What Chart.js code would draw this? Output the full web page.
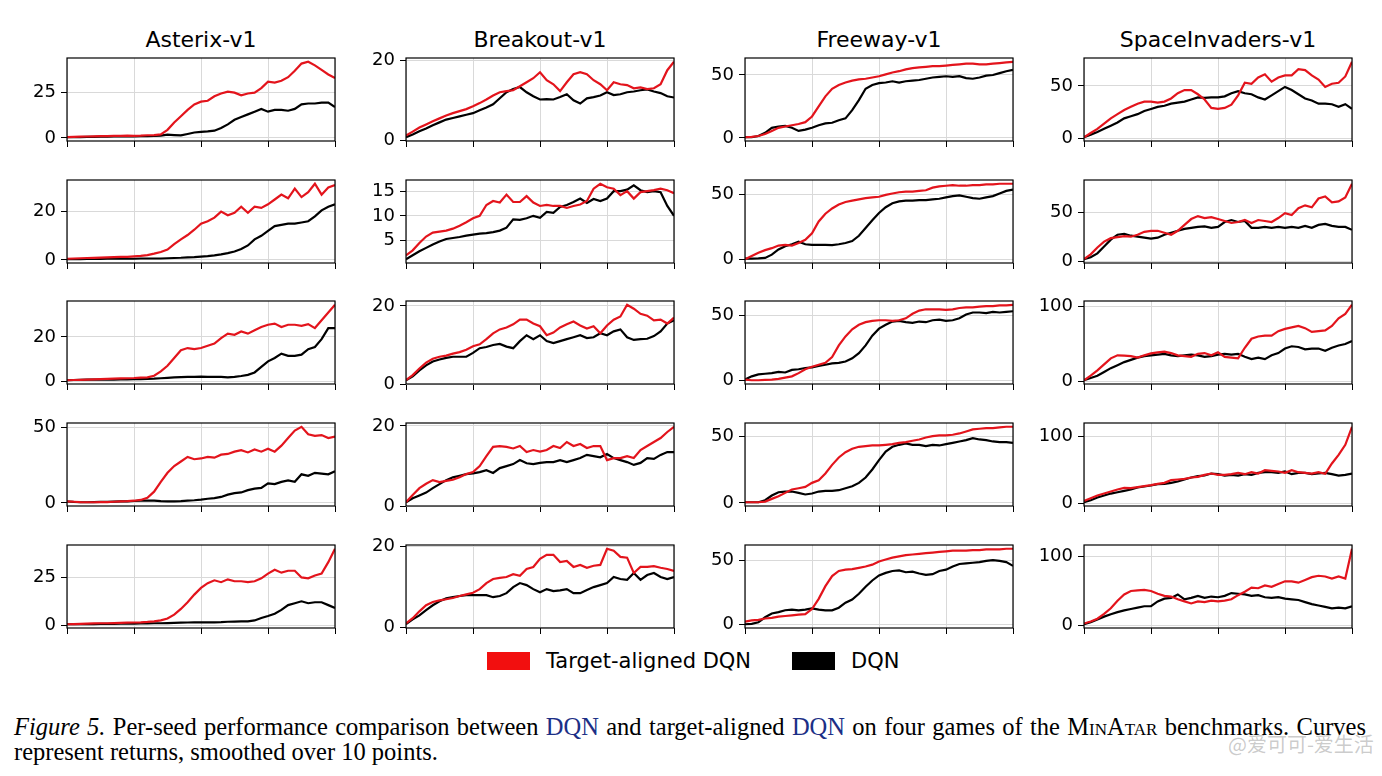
<!DOCTYPE html>
<html>
<head>
<meta charset="utf-8">
<script src="https://cdn.jsdelivr.net/npm/chart.js@4.4.0/dist/chart.umd.min.js"></script>
<style>
  body { margin: 0; background: #fff; width: 1382px; height: 776px; overflow: hidden; position: relative; font-family: 'DejaVu Sans', sans-serif; color: #000; }
  .titulo { position: absolute; top: 26px; width: 268px; text-align: center; font-size: 22px; line-height: 28px; white-space: nowrap; }
  .panel { position: absolute; }
  .leyenda { position: absolute; top: 648px; font-size: 21px; line-height: 26px; white-space: nowrap; }
  .caja { position: absolute; top: 652px; width: 43px; height: 18px; }
  #caption { position: absolute; left: 14px; top: 714px; width: 1352px; font-family: 'Liberation Serif', serif; font-size: 24.5px; line-height: 25px; }
  #caption .l1 { text-align: justify; text-align-last: justify; white-space: nowrap; }
  .dqn { color: #1c2f86; }
  #marca { position: absolute; left: 1228px; top: 729px; font-family: 'Noto Sans CJK SC', sans-serif; font-size: 20px; white-space: nowrap; color: rgba(140,140,140,0.45); }
</style>
</head>
<body>

<script>
// juegos (columnas) y posicion de cada eje
const juegos = ['Asterix-v1', 'Breakout-v1', 'Freeway-v1', 'SpaceInvaders-v1'];
const columnasX = [67, 406, 745, 1084];
const filasY = [58, 180, 301, 423, 545];
const anchoEje = 268;
const altoEje = 83;

// ticks del eje y para cada semilla (fila)
const ticksAsterix = [[0, 25], [0, 20], [0, 20], [0, 50], [0, 25]];
const ticksBreakout = [[0, 20], [5, 10, 15], [0, 20], [0, 20], [0, 20]];
const ticksFreeway = [[0, 50], [0, 50], [0, 50], [0, 50], [0, 50]];
const ticksSpace = [[0, 50], [0, 50], [0, 100], [0, 100], [0, 100]];

// retornos suavizados, una fila por semilla
const asterixAlineado = [
  [0.5,0.6,0.7,0.8,0.9,1.0,1.0,1.1,1.2,1.3,1.2,1.3,1.5,1.6,2,4.5,8.5,12,15.5,18.5,20,20.5,23,24.5,25.5,25,23.5,24.5,25,27.5,31,30.5,31.5,33.5,37,41,42,40,37.5,35,33],
  [0.5,0.6,0.7,0.8,0.9,1,1.1,1.2,1.3,1.3,1.5,1.7,2,2.6,3.3,4.3,6.5,8.5,10.3,12.5,15,16,17.5,20,18.5,19.5,22,19.5,22,21.5,23,25,27,25.5,29.5,26,28,31.5,27,30,31],
  [0.5,0.6,0.7,0.8,0.9,1,1.1,1.2,1.3,1.4,1.5,1.7,1.8,2.5,4.5,7,10.5,14,15,14.5,15,16,17,19.5,21.5,21,22.5,21.5,23,24.5,25.5,26,24.5,25.5,25.5,25,25.8,24,27.5,31,34.5],
  [1,0.8,0.6,0.5,0.5,0.6,0.6,0.8,1,1.2,1.5,2,3.5,7.5,14,20,24.5,27.5,30.5,29,29.5,30.5,30,32,32.5,34,35,33.5,35.5,34,36,34,38,43,48,50.5,45.5,44.5,45,43,44],
  [0.5,0.6,0.7,0.8,0.9,1,1,1.1,1.2,1.3,1.4,1.5,1.7,2,2.5,3.5,5.5,8.5,12,16,19.5,22,23.5,22.5,24,23,23,22.5,23,24.5,27,29,27.5,28.5,28.5,25,24.5,26,27,33,40]
];
const asterixDQN = [
  [0.4,0.5,0.5,0.6,0.6,0.7,0.7,0.8,0.8,0.9,0.9,1,1,1.1,1.3,1.8,1.6,1.4,2.2,3,3.3,3.6,4,5.5,7.5,10,11.5,13,14.5,16,14.5,15.5,15.5,15,16,18.5,19,19,19.5,19.5,17],
  [0.3,0.3,0.3,0.4,0.4,0.4,0.5,0.5,0.5,0.5,0.5,0.6,0.6,0.6,0.6,0.7,0.8,0.9,1.1,1.2,1.4,1.6,1.9,2.3,2.8,3.5,4.5,6,8.5,10,12,14,14.5,15,15,15.5,16,18,20.5,22,23],
  [0.5,0.6,0.7,0.8,0.8,0.8,0.8,0.8,0.9,0.9,1,1,1.1,1.2,1.4,1.6,1.8,1.9,2,2,2.1,2,2,2,1.8,2,2.4,2.9,4,6.5,9,10.5,12.5,11.5,11.5,12,14.5,15.5,19,24,24],
  [1,0.7,0.5,0.5,0.6,0.7,0.8,0.9,1,1.1,1.3,1.5,1.6,1.5,1.2,1,1,1.2,1.5,1.8,2.2,2.8,3.2,4,5.5,6.5,7,8.5,9.5,10,13,12.5,14,15,14,19,18,20,19.5,19,21],
  [0.5,0.5,0.5,0.6,0.6,0.7,0.7,0.7,0.8,0.8,0.8,0.9,0.9,1,1,1.1,1.2,1.3,1.4,1.5,1.5,1.5,1.5,1.6,1.8,1.9,2,2,2.5,3.8,4.8,6,8,10.5,11.5,12.5,11.5,12,12,10.5,9]
];
const breakoutAlineado = [
  [1.2,2.2,3.2,4,4.8,5.5,6.2,6.8,7.3,7.8,8.5,9.3,10.2,11.2,12,12.3,12.5,13.5,14.5,15.5,17,15,14,12.3,14.5,16.5,17,16.5,15,14,12.5,14.5,14,13.8,13,13.2,12.8,13,14,17.5,19.6],
  [2,3,4.5,5.8,6.6,6.8,7,7.4,8,8.7,9.5,10,12.2,13,12.7,14.3,12.8,12.8,14,12.7,12,12.2,12,12,11.6,12,12.3,13,15.5,16.5,15.8,15.5,14.2,15,13.5,14.8,15,15.2,15.5,15.2,14.6],
  [1,2.3,4,5.5,6.5,7,7.3,7.8,8.2,8.8,9.7,10.2,11.5,13,14,14.5,15.3,16.5,16.5,15.5,14.8,12.5,13.2,14.5,15.3,16,15,14.2,14.8,13,15,16.5,17.3,20.3,19.3,18,17.5,16.3,16.5,15.5,17],
  [1,2.8,4.5,5.6,6.5,6,6.3,6.6,7.2,8,8.5,10,12.5,14.8,15,14.8,14.4,15,13.5,14,13.6,14,15,14.5,16,15,15.5,14.5,15,15,11.5,12,12,12.5,12,14,15,16,17,18.5,19.8],
  [1,2.3,4,5.5,6.3,6.7,7,7.3,7.8,8.2,8.6,9.5,11,12,12.3,12.5,13.2,12.8,14.5,15,17,18,18,16.2,16.5,15,15.5,14.8,15.3,15.5,19.5,19,17.5,17.3,13.5,15,15,15.2,14.8,14.5,14]
];
const breakoutDQN = [
  [0.8,1.5,2.3,3,3.8,4.5,5.2,5.6,6,6.4,6.8,7.5,8.2,9,10.5,12,12.8,13.3,12,11,10.2,10.3,10.2,10.8,11.5,10,9.2,10.5,10.8,11.2,12,11.3,11.5,12,12.2,12.5,12.7,12.2,11.8,11,10.7],
  [1.2,2,2.8,3.5,4.2,4.8,5.3,5.5,5.7,6,6.2,6.4,6.5,6.7,7,7.6,9.3,9.2,9.5,10,9.6,10.8,10.6,11.8,12.2,12.8,13.5,12.6,13.4,13,13.5,15,15,15.3,16.2,15.2,14.8,15,14.8,12,10],
  [1,2,3.5,4.8,5.8,6.3,6.7,7,7,7,8,9.2,9.5,10,10.3,9.6,9.2,11,12.5,11.5,12.5,11,10.5,11,11.5,12,12.5,11.8,12,13,12.5,13.5,14,12,11.3,11.5,11.6,12.3,13.5,15.5,16.3],
  [1,2,2.7,3.4,4.5,5.5,6.5,7.2,7.6,8,8.2,8.5,9,8.3,9.5,10,10.5,11.5,10.7,10.5,10.8,11,11,11.5,11,11.5,12,12.8,12.5,12.2,13,12,11.5,11,10.3,10.8,12,11.8,12.8,13.5,13.5],
  [0.8,2,3,4.3,5.5,6.5,7.2,7.5,7.8,8,8,8,8,7.5,7.8,8.5,10,11,10.5,9.5,8.7,9.5,9,9.2,9.5,8.5,8.5,9.3,10,10.5,11,12.5,12,11.8,13.5,11.8,13,13.5,12.5,12,12.5]
];
const freewayAlineado = [
  [0.5,0.8,1.5,3,5.5,8,9,10,11,12.5,17,25,33,39,42,44,45.5,46.5,47,48,49,50.5,52,53,54.5,55.5,56,56.5,57,57,57.5,58,58.5,59,59,58.5,58.5,59,59.5,60,60.5],
  [0,2.5,5,7,8.5,10.5,11,10.5,12.5,15,20,29,35,39,42,44,45,46,47,47.5,48,49.5,50.5,51.5,52,52,52.5,53,55,56,56.5,57,56.5,56.5,57,57,57.5,57.5,58,58,58],
  [0.5,0,0,0.2,0.5,1,2,3,5.5,8.5,10.5,12,13.5,18,27,34,39.5,43,45,46,46.5,46.5,46,46.5,48,51.5,54,55,55,55,54.5,55,56,56.5,56.5,57,57.5,57.5,58,58,58.5],
  [0.5,0.5,0.5,1,3,5,7.5,10,11,12,15,17,22,28.5,34,38,40.5,42,42.5,43,43,43.5,44,45,45.5,46.5,47.5,49,50,50.5,50.5,51,52,53.5,55,55.5,56,56,56.5,57,57],
  [2,3,3.5,4.5,5,6,6.5,7,7.5,8,12,20,30,38,42,43,43.5,44.5,45.5,47,49.5,51,52.5,53.5,54.5,55,55.5,56,56.5,57,57.5,58,58,58,58.5,58.5,59,59,59,59.5,59.5]
];
const freewayDQN = [
  [0.5,0.5,1.5,4,8,9,9.5,8,5.5,6.5,8,10,11.5,12,14,15.5,22,30,39,42,43.5,44,45,44,45,45.5,46,47,48,48.5,49,48.5,49,47.5,47,48,49.5,50,51.5,53,54],
  [0.5,0.5,0.6,1,3.5,7.5,10,11.5,13.5,11.5,11,11,11,10.8,11.5,12.5,14,18,24,30,35.5,40,43,44.5,45,45,45.5,45.5,46,46.5,47.5,48.5,49,48,47,46.5,47.5,48.5,50.5,52.5,53.5],
  [0.5,3,4.5,5,5.5,6.5,6,8,8.5,9.5,10,11,12,13,13.5,14.5,17,21,27,34.5,40,43,45.5,46,45,44.5,45.5,45,46.5,47,46,46.5,48,51,52.5,52.5,52,53,52.5,53,53.5],
  [0.5,0.5,0.5,2,5.5,8,8.5,8.5,7.5,6.3,7,8.5,9,9,9.5,11,12.5,15,19,25,32,38.5,42,43.5,44.5,43.5,43.5,42.5,43.5,43,44,45,46,47,48.5,47.5,47,46,45.5,45.5,45],
  [0,0.3,1.5,5.5,8.5,9.5,11,11.5,11,11.5,12.5,11.5,11,11,13,17,19.5,24,29.5,34.5,38.5,40.5,42,42.5,41,41.5,40,39,39.5,42,43,45.5,47.5,48,48.5,49,50,50.5,50,49,46]
];
const spaceAlineado = [
  [1,5,9,14,19,23,27,30,33,35,35,34,35,38,43,46,46,42,37,29,28,29,32,41,53,52,58,61,54,58,60,60,66,65,60,56,49,52,53,59,73],
  [2,7,14,20,23.5,24.5,25.5,25,27,30,31,31,29,27,31,37,43,46,44,45,43,41,39,40,42,39,42,41,40,44,49,47,54,57,55,64,66,60,61,65,79],
  [2,8,15,23,31,35,34.5,34,32,35,37.5,39,40,38,35,34,33,37,38,35,39,33,32,31,45,57,60,61,61,67,70,72,74,71,66,67,68,74,84,90,102],
  [4,8,12,15,18,21,23.5,23,24.5,26,27.5,29.5,31,35,36,37,39,40,43,45,43,43,44,46,44,47,45,50,49,48,46,50,47,46,45,47,44.5,60,73,88,115],
  [3,6,10,17,25,36,45,50,51,51.5,50,46,43,42,38,35,32,35,34,36,35,36,38,44,49,55,54,58,56,60,64,64,62,66,70,72,71,68,71,68,111]
];
const spaceDQN = [
  [1,3.5,6,9,12,15,19,21,23,26,28,30,31,33,34,35,37,39,38.5,39,39,40,43,45,43,42,39,37,41,45,49,46,42,38,36,33,33,32.5,30,32.5,28],
  [2,4,8,15,22,27,28,26,25,24,23,24,27,29,31,33,34,35,35.5,34,35,40,42,40,41,34,34,35,34,35,34,35,34,36,34,37,38,36,35,35,32],
  [2,5,8,13,18,22,26,29,32,34,35,36,37,35,34,35,36,35,33,34,36,37,36,37,33,30,32,30,35,38,44,47,46,43,44,44,41,45,48,50,54],
  [2,5,9,12,15,17,19,21,24,25.5,27,29,29.5,31,33,36,39,41,42,45,44,42,43,42,44,43,46,47,47,46,48,44,46,46,44,45,46,44,42,43,45],
  [2,5,9,13,16.5,19.5,22,24,26,28,28,35,39,40,45,38,40,43,40,42,41,43,47,46,45,43,44,41,40,41,39,38,37,34,31,29,27,25,26,25,28]
];

const seriesAlineado = [asterixAlineado, breakoutAlineado, freewayAlineado, spaceAlineado];
const seriesDQN = [asterixDQN, breakoutDQN, freewayDQN, spaceDQN];
const ticksPorJuego = [ticksAsterix, ticksBreakout, ticksFreeway, ticksSpace];

const rojo = '#e3141c';
const gris = '#d9d9d9';

// margenes del canvas alrededor del area del eje
const margenIzq = 60, margenSup = 10, margenDer = 10, margenInf = 12;

// dibuja el recuadro completo (las cuatro lineas del eje)
const marco = {
  id: 'marco',
  afterDraw(chart) {
    const a = chart.chartArea;
    const ctx = chart.ctx;
    ctx.save();
    ctx.strokeStyle = '#000';
    ctx.lineWidth = 1.2;
    ctx.strokeRect(a.left, a.top, a.right - a.left, a.bottom - a.top);
    ctx.restore();
  }
};

function aPuntos(valores) {
  return valores.map((v, i) => ({ x: i, y: v }));
}

function crearPanel(fila, col) {
  const alineado = seriesAlineado[col][fila];
  const dqn = seriesDQN[col][fila];
  const ticksY = ticksPorJuego[col][fila];

  // limites como matplotlib: rango de datos + 5%
  let todos = alineado.concat(dqn);
  let minimo = Math.min(...todos);
  let maximo = Math.max(...todos);
  let margen = (maximo - minimo) * 0.05;
  let ultimo = alineado.length - 1;

  let div = document.createElement('div');
  div.className = 'panel';
  div.style.left = (columnasX[col] - margenIzq) + 'px';
  div.style.top = (filasY[fila] - margenSup) + 'px';
  let canvas = document.createElement('canvas');
  canvas.width = margenIzq + anchoEje + margenDer;
  canvas.height = margenSup + altoEje + margenInf;
  div.appendChild(canvas);
  document.body.appendChild(div);

  new Chart(canvas, {
    type: 'line',
    data: {
      datasets: [{
        label: 'Target-aligned DQN',
        data: aPuntos(alineado),
        borderColor: rojo,
        borderWidth: 2.2,
        pointRadius: 0,
        tension: 0
      }, {
        label: 'DQN',
        data: aPuntos(dqn),
        borderColor: '#000',
        borderWidth: 2.2,
        pointRadius: 0,
        tension: 0
      }]
    },
    options: {
      responsive: false,
      animation: false,
      events: [],
      layout: { padding: { left: 0, top: margenSup, right: margenDer, bottom: 0 } },
      plugins: { legend: { display: false }, tooltip: { enabled: false } },
      scales: {
        x: {
          type: 'linear',
          min: 0,
          max: ultimo,
          bounds: 'data',
          afterBuildTicks: (escala) => {
            escala.ticks = [0, 0.25, 0.5, 0.75, 1].map(f => ({ value: f * ultimo }));
          },
          afterFit: (escala) => {
            escala.height = margenInf;
            escala.paddingLeft = escala.paddingRight = 0;
          },
          ticks: { display: false },
          grid: { color: gris, lineWidth: 1, tickColor: '#000', tickLength: 6, drawTicks: true },
          border: { display: false }
        },
        y: {
          min: minimo - margen,
          max: maximo + margen,
          bounds: 'data',
          afterBuildTicks: (escala) => {
            escala.ticks = ticksY.map(v => ({ value: v }));
          },
          afterFit: (escala) => {
            escala.width = margenIzq;
            escala.paddingTop = escala.paddingBottom = 0;
          },
          ticks: { color: '#000', padding: 5, font: { family: 'DejaVu Sans', size: 18 } },
          grid: { color: gris, lineWidth: 1, tickColor: '#000', tickLength: 6 },
          border: { display: false }
        }
      }
    },
    plugins: [marco]
  });
}

// titulos de columna
juegos.forEach((nombre, col) => {
  let t = document.createElement('div');
  t.className = 'titulo';
  t.style.left = columnasX[col] + 'px';
  t.textContent = nombre;
  document.body.appendChild(t);
});

for (let fila = 0; fila < filasY.length; fila++) {
  for (let col = 0; col < juegos.length; col++) {
    crearPanel(fila, col);
  }
}
</script>

<div class="caja" style="left:487px; background:#f20f0f;"></div>
<div class="leyenda" style="left:546px;">Target-aligned DQN</div>
<div class="caja" style="left:792px; background:#000;"></div>
<div class="leyenda" style="left:851px;">DQN</div>

<div id="caption">
  <div class="l1"><i>Figure 5.</i> Per-seed performance comparison between <span class="dqn">DQN</span> and target-aligned <span class="dqn">DQN</span> on four games of the <span style="font-variant: small-caps;">MinAtar</span> benchmarks. Curves</div>
  <div>represent returns, smoothed over 10 points.</div>
</div>
<div id="marca">@爱可可-爱生活</div>

</body>
</html>
